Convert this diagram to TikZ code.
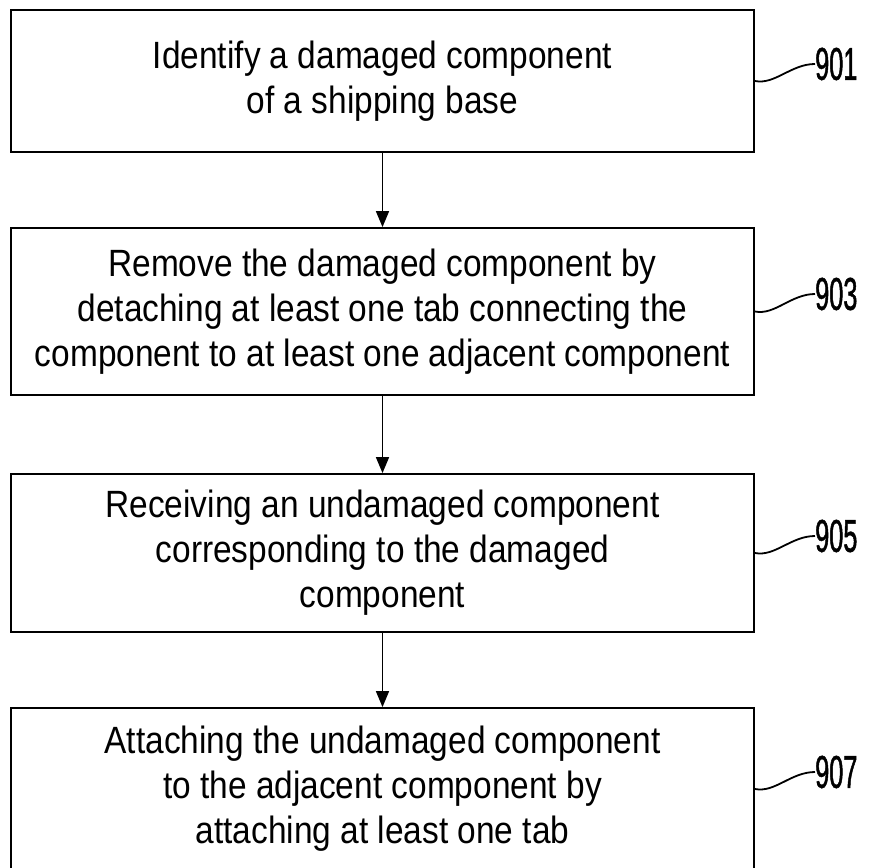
\documentclass[tikz,border=0pt]{standalone}
\usepackage{fontspec}
\setmainfont[FakeStretch=0.88]{Liberation Sans}
\newfontfamily\reffont[FakeStretch=0.55,FakeBold=1]{Liberation Sans}
\usepackage{tikz}
\usetikzlibrary{arrows.meta}
\tikzset{stepbox/.style={black,draw=black,line width=1.8pt,fill=white,rectangle,minimum width=743pt,align=center,font=\fontsize{38}{45}\selectfont}}
\tikzset{reflabel/.style={black,inner sep=0pt,font=\reffont\fontsize{46}{46}\selectfont}}
\tikzset{flow/.style={-{Triangle[length=16pt,width=13pt]},line width=1.6pt}}
\tikzset{leader/.style={line width=1.8pt}}

\begin{document}
\begin{tikzpicture}[x=1pt,y=-1pt]
    \useasboundingbox (0,0) rectangle (869,867);

    \node[stepbox,minimum height=142pt] (s901) at (382.5,81) {Identify a damaged component\\of a shipping base};
    \node[stepbox,minimum height=167pt] (s903) at (382.5,311.5) {Remove the damaged component by\\detaching at least one tab connecting the\\component to at least one adjacent component};
    \node[stepbox,minimum height=158pt] (s905) at (382.5,553) {Receiving an undamaged component\\corresponding to the damaged\\component};
    \node[stepbox,minimum height=162pt] (s907) at (382.5,789) {Attaching the undamaged component\\to the adjacent component by\\attaching at least one tab};

    \node[reflabel,anchor=west] (l901) at (815,64) {901};
    \node[reflabel,anchor=west] (l903) at (815,294) {903};
    \node[reflabel,anchor=west] (l905) at (815,536) {905};
    \node[reflabel,anchor=west] (l907) at (815,772) {907};

    \draw[flow] (s901) -- (s903);
    \draw[flow] (s903) -- (s905);
    \draw[flow] (s905) -- (s907);

    \draw[leader] (s901.east) .. controls +(20,4) and +(-24,0) .. (l901.west);
    \draw[leader] (s903.east) .. controls +(20,4) and +(-24,0) .. (l903.west);
    \draw[leader] (s905.east) .. controls +(20,4) and +(-24,0) .. (l905.west);
    \draw[leader] (s907.east) .. controls +(20,4) and +(-24,0) .. (l907.west);
  \end{tikzpicture}
\end{document}
